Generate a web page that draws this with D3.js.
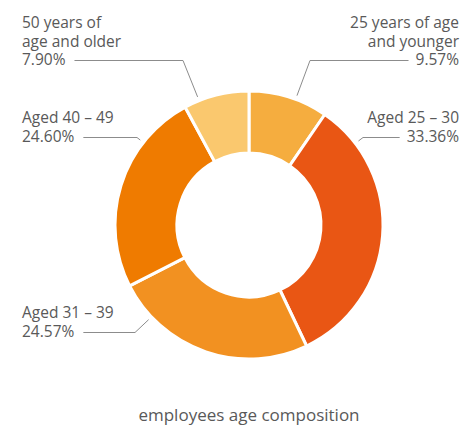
<!DOCTYPE html>
<html>
<head>
<meta charset="utf-8">
<script src="https://cdn.jsdelivr.net/npm/d3@7"></script>
<style>
  body { margin: 0; background: #fff; }
  text { font-family: "Open Sans", "Noto Sans", sans-serif; fill: #595959; }
</style>
</head>
<body>
<div id="chart"></div>
<script>
// data
const categories = ["25 years of age and younger", "Aged 25 – 30", "Aged 31 – 39", "Aged 40 – 49", "50 years of age and older"];
const labelLines = [["25 years of age", "and younger"], ["Aged 25 – 30"], ["Aged 31 – 39"], ["Aged 40 – 49"], ["50 years of", "age and older"]];
const values = [9.57, 33.36, 24.57, 24.60, 7.90];
const colors = ["#F5AD3F", "#E95614", "#F29121", "#EF7B00", "#FAC86E"];
const title = "employees age composition";

// label placement (x edge, first baseline, anchor, elbow x)
const labelPos = [
  { x: 459, y: 28, anchor: "end", elbow: 310 },
  { x: 459, y: 123, anchor: "end", elbow: 363 },
  { x: 22, y: 318, anchor: "start", elbow: 135 },
  { x: 22, y: 123, anchor: "start", elbow: 137 },
  { x: 22, y: 28, anchor: "start", elbow: 183 }
];

const width = 461, height = 425;
const cx = 249, cy = 225;
const outerR = 134, innerR = 72, leaderR = 138;
const lineH = 18.5;
const fontSize = 15.5;

const svg = d3.select("#chart").append("svg")
  .attr("width", width)
  .attr("height", height);

const data = categories.map((c, i) => ({ name: c, value: values[i], color: colors[i], lines: labelLines[i], pos: labelPos[i] }));

const pie = d3.pie().sort(null).value(d => d.value);
const arc = d3.arc().innerRadius(innerR).outerRadius(outerR);
const arcs = pie(data);

const g = svg.append("g").attr("transform", "translate(" + cx + "," + cy + ")");

g.selectAll("path.slice")
  .data(arcs)
  .enter().append("path")
  .attr("class", "slice")
  .attr("d", arc)
  .attr("fill", d => d.data.color)
  .attr("stroke", "#fff")
  .attr("stroke-width", 3)
  .attr("stroke-linejoin", "round");

// labels
const labels = svg.append("g");
arcs.forEach(a => {
  const d = a.data, p = d.pos;
  const allLines = d.lines.concat([d3.format(".2f")(d.value) + "%"]);
  const t = labels.append("text")
    .attr("text-anchor", p.anchor)
    .style("font-size", fontSize + "px");
  allLines.forEach((ln, i) => {
    t.append("tspan").attr("x", p.x).attr("y", p.y + i * lineH).text(ln);
  });
  // leader line from last text line to the ring
  const last = t.selectAll("tspan").nodes().pop();
  const w = last.getComputedTextLength();
  const ly = Math.round(p.y + (allLines.length - 1) * lineH - 5) + 0.5;
  const startX = p.anchor === "start" ? p.x + w + 9 : p.x - w - 7;
  // point on ring toward elbow, clamped to slice span
  let ang = Math.atan2(p.elbow - cx, -(ly - cy));
  if (ang < 0) ang += 2 * Math.PI;
  ang = Math.max(a.startAngle + 0.03, Math.min(a.endAngle - 0.03, ang));
  const ex = cx + leaderR * Math.sin(ang), ey = cy - leaderR * Math.cos(ang);
  labels.append("path")
    .attr("d", d3.line()([[startX, ly], [p.elbow, ly], [ex, ey]]))
    .attr("fill", "none")
    .attr("stroke", "#8C8C8C")
    .attr("stroke-width", 1);
});

svg.append("text")
  .attr("x", cx)
  .attr("y", 421)
  .attr("text-anchor", "middle")
  .style("font-size", "17px")
  .text(title);
</script>
</body>
</html>
